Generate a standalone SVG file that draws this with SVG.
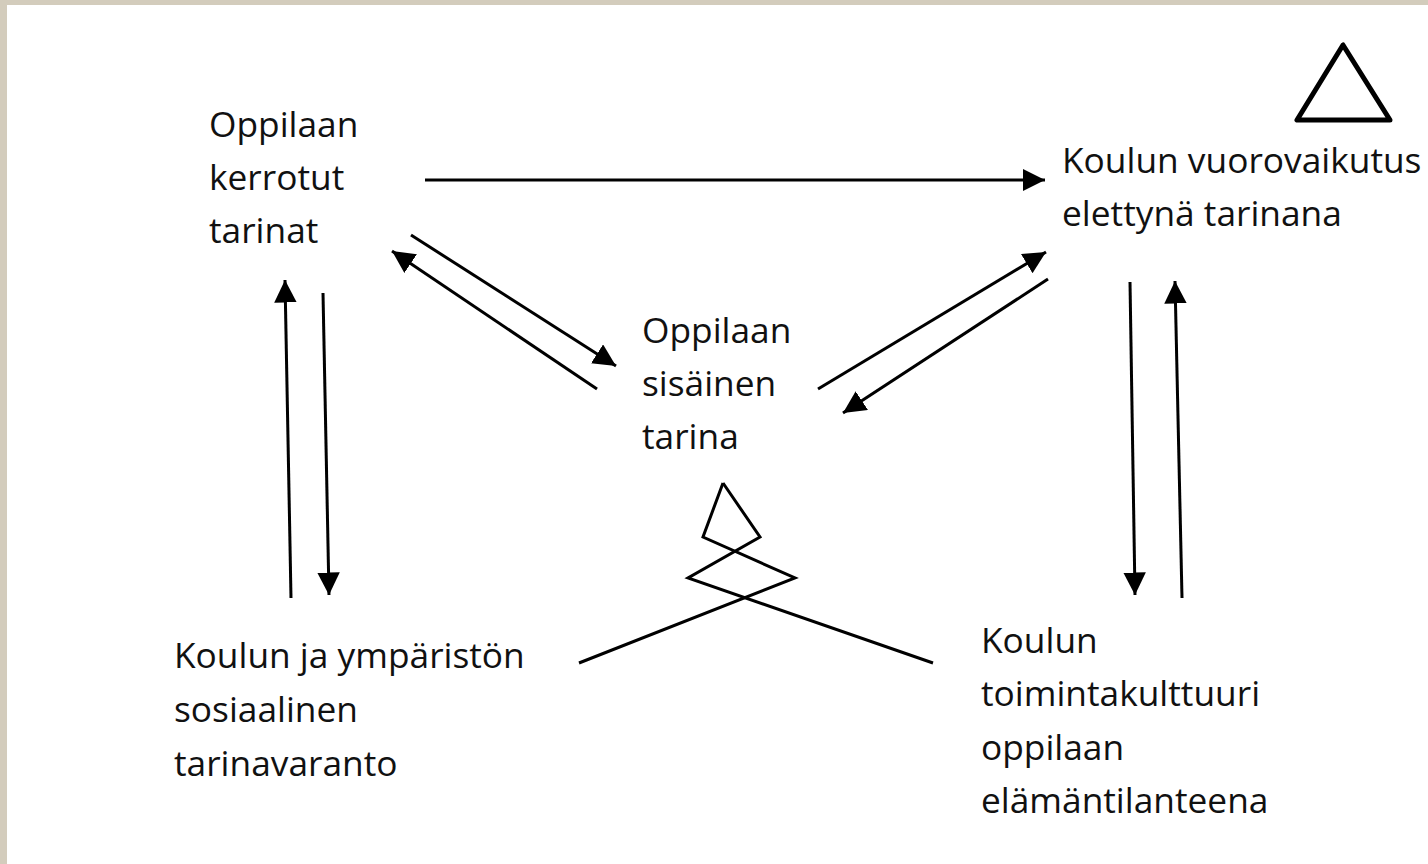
<svg xmlns="http://www.w3.org/2000/svg" width="1428" height="864" viewBox="0 0 1428 864">
<defs>
<style>
.t{font-family:"Open Sans",Lato,"Liberation Sans",sans-serif;font-size:35.3px;fill:#111}
.c{stroke:#000;stroke-width:3;fill:none}
.s{stroke:#000;stroke-width:3;fill:none;stroke-linejoin:miter}
</style>
<marker id="ah" viewBox="0 0 10 10" refX="10" refY="5" markerWidth="7.5" markerHeight="7.5" markerUnits="strokeWidth" orient="auto">
<path d="M0,0 L10,5 L0,10 z" fill="#000"/>
</marker>
</defs>
<rect x="0" y="0" width="1428" height="864" fill="#d3ccbc"/>
<rect x="7" y="5" width="1421" height="859" fill="#fff"/>

<g id="node-kerrotut">
<text class="t" x="209" y="137">Oppilaan</text>
<text class="t" x="209" y="190">kerrotut</text>
<text class="t" x="209" y="243">tarinat</text>
</g>
<g id="node-vuorovaikutus">
<text class="t" x="1062" y="173">Koulun vuorovaikutus</text>
<text class="t" x="1062" y="226">elettynä tarinana</text>
</g>
<g id="node-sisainen">
<text class="t" x="642" y="343">Oppilaan</text>
<text class="t" x="642" y="396">sisäinen</text>
<text class="t" x="642" y="449">tarina</text>
</g>
<g id="node-tarinavaranto">
<text class="t" x="174" y="668">Koulun ja ympäristön</text>
<text class="t" x="174" y="722">sosiaalinen</text>
<text class="t" x="174" y="776">tarinavaranto</text>
</g>
<g id="node-toimintakulttuuri">
<text class="t" x="981" y="653">Koulun</text>
<text class="t" x="981" y="706">toimintakulttuuri</text>
<text class="t" x="981" y="760">oppilaan</text>
<text class="t" x="981" y="813">elämäntilanteena</text>
</g>
<g id="symbol-triangle">
<polygon points="1343,45 1297,120 1390,120" fill="none" stroke="#000" stroke-width="5" stroke-linejoin="round"/>
</g>
<g id="symbol-figure">
<polyline class="s" points="723,483 703,537 795,578 579,663"/>
<polyline class="s" points="723,483 760,537 688,578 933,663"/>
</g>
<g id="connectors">
<line class="c" x1="425" y1="180" x2="1045" y2="180" marker-end="url(#ah)"/>
<line class="c" x1="411" y1="235" x2="616" y2="366" marker-end="url(#ah)"/>
<line class="c" x1="597" y1="389" x2="392" y2="251" marker-end="url(#ah)"/>
<line class="c" x1="818" y1="389" x2="1046" y2="252" marker-end="url(#ah)"/>
<line class="c" x1="1048" y1="279" x2="843" y2="413" marker-end="url(#ah)"/>
<line class="c" x1="291" y1="598" x2="285" y2="280" marker-end="url(#ah)"/>
<line class="c" x1="323" y1="293" x2="329" y2="595" marker-end="url(#ah)"/>
<line class="c" x1="1130" y1="282" x2="1135" y2="595" marker-end="url(#ah)"/>
<line class="c" x1="1182" y1="598" x2="1175" y2="281" marker-end="url(#ah)"/>
</g>
</svg>
